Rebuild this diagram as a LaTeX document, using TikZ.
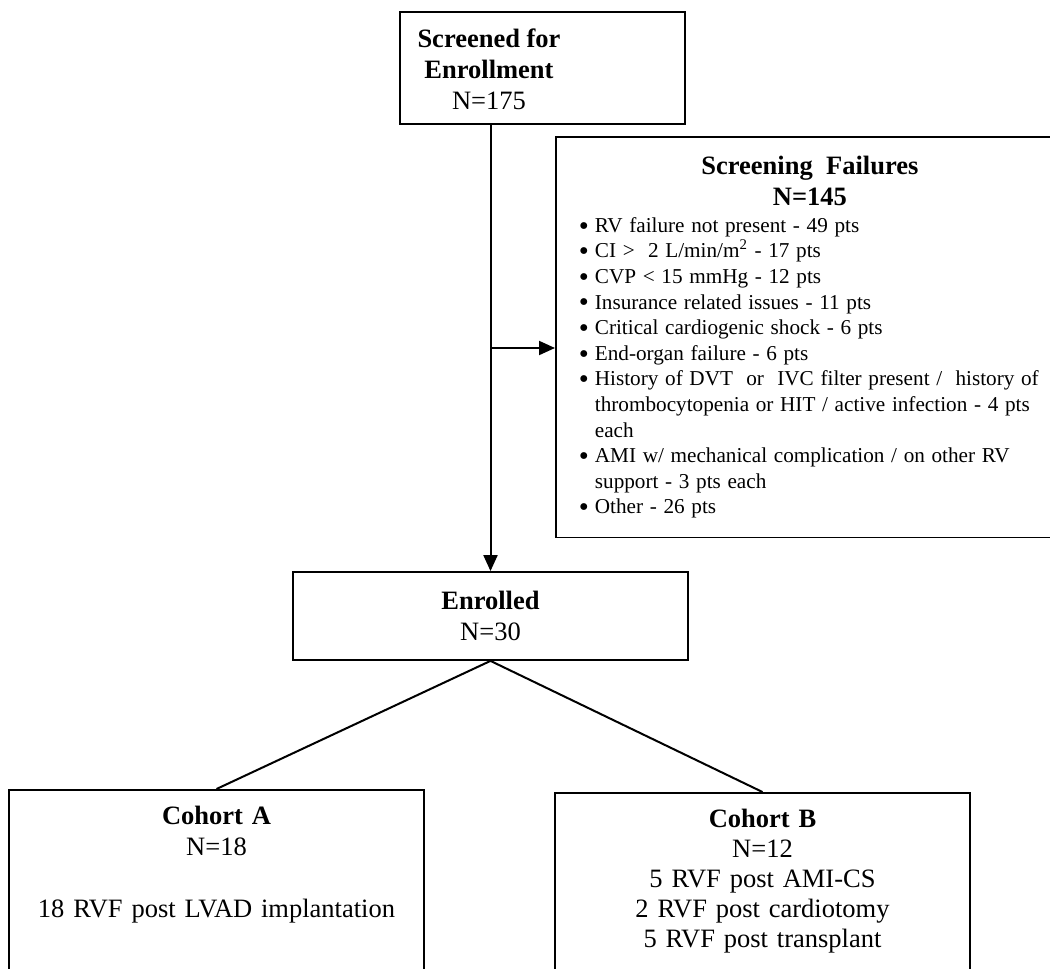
\documentclass[tikz,border=0pt]{standalone}
\usepackage{fontspec}
\setmainfont{Liberation Serif}
\usetikzlibrary{arrows.meta, positioning}
\newcommand{\failitem}[1]{\par\hangindent=8pt\hangafter=1\noindent\makebox[8pt][l]{\raisebox{-1.4pt}{\scalebox{1.35}{\textbullet}}}#1}

\begin{document}
\begin{tikzpicture}[x=0.5pt, y=-0.5pt,
	box/.style={draw, line width=0.9pt, inner sep=0pt},
	flow/.style={line width=1pt, -{Triangle[length=8pt, width=7pt]}},
	big/.style={font=\fontsize{13.25}{15.5}\selectfont}]
	\useasboundingbox (0,0) rectangle (1050,969);
	\clip (0,0) rectangle (1050,969);

	\node[box, big, minimum width=142.5pt, minimum height=56pt] (screened) at (542.5,68)
		{\raisebox{-2pt}[\height][\depth]{\begin{tabular}{@{}c@{}}\textbf{Screened for}\\ \textbf{Enrollment}\\ N=175\end{tabular}}\hspace*{53.5pt}};
	\node[box, big, align=center, minimum width=197.5pt, minimum height=44pt] (enrolled) at (490.5,616)
		{\textbf{Enrolled}\\N=30};
	\node[box, anchor=north west, text width=231pt, inner xsep=11.5pt, inner ysep=9.5pt] (failures) at (555,136) {%
		{\centering\bfseries\fontsize{13.25}{15.5}\selectfont Screening\ \ Failures\\ N=145\par}
		\fontsize{10.6}{12.8}\selectfont\raggedright
		\vspace{0.7pt}
		\failitem{RV failure not present - 49 pts}
		\failitem{CI >\ \ 2 L/min/m\textsuperscript{2} - 17 pts}
		\failitem{CVP < 15 mmHg - 12 pts}
		\failitem{Insurance related issues - 11 pts}
		\failitem{Critical cardiogenic shock - 6 pts}
		\failitem{End-organ failure - 6 pts}
		\failitem{History of DVT\ \ or\ \ IVC filter present /\ \ history of\newline thrombocytopenia or HIT / active infection - 4 pts\newline each}
		\failitem{AMI w/ mechanical complication / on other RV\newline support - 3 pts each}
		\failitem{Other - 26 pts}\par};
	\node[box, big, anchor=north, text width=199.5pt, inner xsep=4pt, inner ysep=8pt, align=center] (cohortA) at (216.5,789)
		{\textbf{Cohort A}\\N=18\\[15.5pt]18 RVF post LVAD implantation\\[40pt]\mbox{}};
	\node[box, font=\fontsize{13.25}{15}\selectfont, anchor=north, text width=199.5pt, inner xsep=4pt, inner ysep=8pt, align=center] (cohortB) at (762.5,792)
		{\textbf{Cohort B}\\N=12\\5 RVF post AMI-CS\\2 RVF post cardiotomy\\5 RVF post transplant\\[30pt]\mbox{}};

	\coordinate (branch) at (enrolled.north |- 0,348);
	\draw[flow] (screened.south -| enrolled.north) -- (enrolled.north);
	\draw[flow] (branch) -- (branch -| failures.west);
	\draw[line width=1pt] (enrolled.south) -- (cohortA.north);
	\draw[line width=1pt] (enrolled.south) -- (cohortB.north);
\end{tikzpicture}
\end{document}
